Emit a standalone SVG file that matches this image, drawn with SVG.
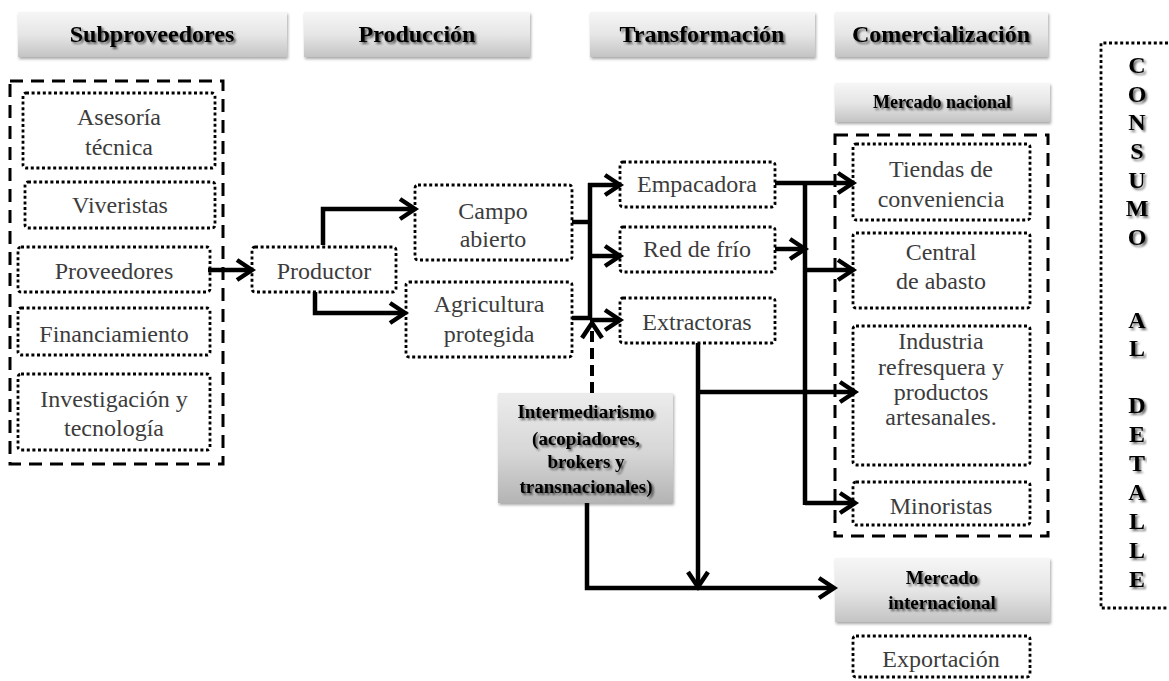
<svg xmlns="http://www.w3.org/2000/svg" width="1169" height="681" viewBox="0 0 1169 681">
<defs>
  <linearGradient id="gHead" x1="0" y1="0" x2="0" y2="1">
    <stop offset="0" stop-color="#f6f6f6"/>
    <stop offset="0.5" stop-color="#e6e6e6"/>
    <stop offset="1" stop-color="#c4c4c4"/>
  </linearGradient>
  <linearGradient id="gInter" x1="0" y1="0" x2="0" y2="1">
    <stop offset="0" stop-color="#ececec"/>
    <stop offset="0.55" stop-color="#d6d6d6"/>
    <stop offset="1" stop-color="#b4b4b4"/>
  </linearGradient>
  <filter id="boxShadow" x="-10%" y="-20%" width="120%" height="150%">
    <feDropShadow dx="1" dy="2" stdDeviation="1.5" flood-color="#000" flood-opacity="0.35"/>
  </filter>
  <filter id="txtShadow" x="-10%" y="-30%" width="120%" height="160%">
    <feGaussianBlur in="SourceAlpha" stdDeviation="1.3"/>
    <feOffset dx="1.5" dy="2" result="b"/>
    <feComponentTransfer in="b" result="s"><feFuncA type="linear" slope="0.6"/></feComponentTransfer>
    <feMerge><feMergeNode in="s"/><feMergeNode in="SourceGraphic"/></feMerge>
  </filter>
  <marker id="arr" markerUnits="userSpaceOnUse" markerWidth="24" markerHeight="26" refX="18" refY="13" orient="auto">
    <path d="M3,3 L18,13 L3,23" fill="none" stroke="#000" stroke-width="4.5" stroke-linejoin="miter"/>
  </marker>
</defs>
<style>
  .hdr { fill: url(#gHead); filter: url(#boxShadow); }
  .inter { fill: url(#gInter); filter: url(#boxShadow); }
  .ht { font-family: "Liberation Serif", "Times New Roman", serif; font-weight: bold; font-size: 24px; fill: #000; text-anchor: middle; filter: url(#txtShadow); }
  .st { font-family: "Liberation Serif", "Times New Roman", serif; font-weight: bold; font-size: 18px; fill: #000; text-anchor: middle; filter: url(#txtShadow); }
  .it { font-family: "Liberation Serif", "Times New Roman", serif; font-weight: bold; font-size: 19px; fill: #000; text-anchor: middle; filter: url(#txtShadow); }
  .vt { font-family: "Liberation Serif", "Times New Roman", serif; font-weight: bold; font-size: 24px; fill: #000; text-anchor: middle; filter: url(#txtShadow); }
  .bt { font-family: "Liberation Serif", "Times New Roman", serif; font-size: 24px; fill: #3c3c3c; text-anchor: middle; }
  .dot { fill: #fff; stroke: #000; stroke-width: 2.8; stroke-dasharray: 3 2.6; }
  .dash { fill: none; stroke: #000; stroke-width: 3; stroke-dasharray: 13 8; }
  .ln { fill: none; stroke: #000; stroke-width: 4.5; }
  .ar { fill: none; stroke: #000; stroke-width: 4.5; marker-end: url(#arr); }
  .dar { fill: none; stroke: #000; stroke-width: 4; stroke-dasharray: 11 6; marker-end: url(#arr); }
</style>
<rect width="1169" height="681" fill="#fff"/>

<!-- headers -->
<g id="h-subproveedores"><rect class="hdr" x="18" y="12" width="269" height="45"/><text class="ht" x="152" y="42">Subproveedores</text></g>
<g id="h-produccion"><rect class="hdr" x="304" y="12" width="226" height="45"/><text class="ht" x="417" y="42">Producción</text></g>
<g id="h-transformacion"><rect class="hdr" x="590" y="12" width="225" height="45"/><text class="ht" x="702" y="42">Transformación</text></g>
<g id="h-comercializacion"><rect class="hdr" x="835" y="12" width="213" height="45"/><text class="ht" x="941" y="42">Comercialización</text></g>

<!-- containers -->
<g id="subproveedores-group"><rect class="dash" x="10" y="81" width="213" height="383"/></g>
<g id="mercado-nacional-group"><rect class="dash" x="835" y="135" width="213" height="401"/></g>

<!-- left nodes -->
<g id="asesoria"><rect class="dot" x="23" y="93" width="192" height="75" rx="3"/><text class="bt" x="119" y="125">Asesoría</text><text class="bt" x="119" y="155">técnica</text></g>
<g id="viveristas"><rect class="dot" x="25" y="182" width="190" height="46" rx="3"/><text class="bt" x="120" y="213">Viveristas</text></g>
<g id="proveedores"><rect class="dot" x="18" y="247" width="192" height="45" rx="3"/><text class="bt" x="114" y="279">Proveedores</text></g>
<g id="financiamiento"><rect class="dot" x="18" y="308" width="192" height="47" rx="3"/><text class="bt" x="114" y="342">Financiamiento</text></g>
<g id="investigacion"><rect class="dot" x="18" y="374" width="192" height="76" rx="3"/><text class="bt" x="114" y="407">Investigación y</text><text class="bt" x="114" y="436">tecnología</text></g>

<g id="productor"><rect class="dot" x="252" y="247" width="144" height="45" rx="3"/><text class="bt" x="324" y="279">Productor</text></g>
<g id="campo-abierto"><rect class="dot" x="415" y="185" width="157" height="75" rx="3"/><text class="bt" x="493" y="219">Campo</text><text class="bt" x="493" y="247">abierto</text></g>
<g id="agricultura-protegida"><rect class="dot" x="406" y="282" width="166" height="75" rx="3"/><text class="bt" x="489" y="312">Agricultura</text><text class="bt" x="489" y="342">protegida</text></g>

<g id="empacadora"><rect class="dot" x="620" y="162" width="155" height="45" rx="3"/><text class="bt" x="697" y="192">Empacadora</text></g>
<g id="red-de-frio"><rect class="dot" x="620" y="227" width="155" height="45" rx="3"/><text class="bt" x="697" y="257">Red de frío</text></g>
<g id="extractoras"><rect class="dot" x="620" y="298" width="155" height="45" rx="3"/><text class="bt" x="697" y="330">Extractoras</text></g>

<g id="intermediarismo"><rect class="inter" x="498" y="393" width="175" height="110"/>
  <text class="it" x="586" y="418">Intermediarismo</text>
  <text class="it" x="586" y="445">(acopiadores,</text>
  <text class="it" x="586" y="468">brokers y</text>
  <text class="it" x="586" y="493">transnacionales)</text></g>

<!-- right nodes -->
<g id="mercado-nacional"><rect class="hdr" x="835" y="83" width="215" height="39"/><text class="st" x="942" y="108">Mercado nacional</text></g>
<g id="tiendas"><rect class="dot" x="853" y="144" width="177" height="76" rx="3"/><text class="bt" x="941" y="177">Tiendas de</text><text class="bt" x="941" y="207">conveniencia</text></g>
<g id="central"><rect class="dot" x="853" y="233" width="177" height="75" rx="3"/><text class="bt" x="941" y="260">Central</text><text class="bt" x="941" y="289">de abasto</text></g>
<g id="industria"><rect class="dot" x="853" y="326" width="177" height="139" rx="3"/><text class="bt" x="941" y="349">Industria</text><text class="bt" x="941" y="375">refresquera y</text><text class="bt" x="941" y="400">productos</text><text class="bt" x="941" y="425">artesanales.</text></g>
<g id="minoristas"><rect class="dot" x="853" y="482" width="177" height="43" rx="3"/><text class="bt" x="941" y="514">Minoristas</text></g>
<g id="mercado-internacional"><rect class="hdr" x="835" y="558" width="215" height="64"/><text class="it" x="942" y="584">Mercado</text><text class="it" x="942" y="609">internacional</text></g>
<g id="exportacion"><rect class="dot" x="853" y="636" width="177" height="41" rx="3"/><text class="bt" x="941" y="667">Exportación</text></g>

<g id="consumo-al-detalle">
  <path class="dot" d="M1168,43 H1101 V608 H1168" style="fill:none"/>
  <text class="vt" x="1137" y="73">C</text>
  <text class="vt" x="1137" y="102">O</text>
  <text class="vt" x="1137" y="130">N</text>
  <text class="vt" x="1137" y="159">S</text>
  <text class="vt" x="1137" y="188">U</text>
  <text class="vt" x="1137" y="216">M</text>
  <text class="vt" x="1137" y="245">O</text>
  <text class="vt" x="1137" y="328">A</text>
  <text class="vt" x="1137" y="356">L</text>
  <text class="vt" x="1137" y="413">D</text>
  <text class="vt" x="1137" y="442">E</text>
  <text class="vt" x="1137" y="471">T</text>
  <text class="vt" x="1137" y="500">A</text>
  <text class="vt" x="1137" y="529">L</text>
  <text class="vt" x="1137" y="558">L</text>
  <text class="vt" x="1137" y="587">E</text>
</g>

<!-- connectors -->
<g id="connectors">
  <path class="ar" d="M208,270 H252"/>
  <path class="ar" d="M323,245 V209 H415"/>
  <path class="ar" d="M315,292 V313 H405"/>
  <path class="ln" d="M572,222 H592"/>
  <path class="ln" d="M572,318 H592"/>
  <path class="ln" d="M590,183 V320"/>
  <path class="ar" d="M588,185 H620"/>
  <path class="ar" d="M590,256 H620"/>
  <path class="ar" d="M590,320 H620"/>
  <path class="dar" d="M592,393 V323"/>
  <path class="ar" d="M775,183 H853"/>
  <path class="ln" d="M805,181 V505"/>
  <path class="ar" d="M775,249 H805"/>
  <path class="ar" d="M805,270 H853"/>
  <path class="ar" d="M805,503 H855"/>
  <path class="ar" d="M698,343 V587"/>
  <path class="ar" d="M696,392 H855"/>
  <path class="ar" d="M587,503 V588 H834"/>
</g>
</svg>
